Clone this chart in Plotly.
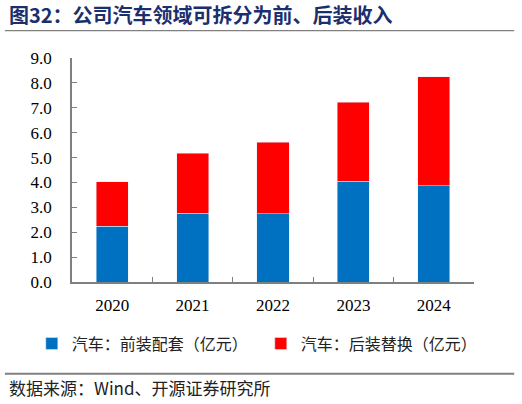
import plotly.graph_objects as go

years = ['2020', '2021', '2022', '2023', '2024']
front = [2.25, 2.76, 2.74, 4.05, 3.86]   # 汽车：前装配套（亿元）
after = [1.77, 2.42, 2.88, 3.18, 4.39]   # 汽车：后装替换（亿元）
yticks = [0, 1, 2, 3, 4, 5, 6, 7, 8, 9]

cjk = 'Noto Sans CJK SC'
num = 'Liberation Serif'

fig = go.Figure()
fig.add_trace(go.Bar(x=years, y=front, name='汽车：前装配套（亿元）',
                     marker_color='#0070C0', width=0.4))
fig.add_trace(go.Bar(x=years, y=after, name='汽车：后装替换（亿元）',
                     marker_color='#FF0000', width=0.4))

fig.update_layout(
    barmode='stack',
    width=522, height=404,
    margin=dict(l=72, r=48, t=58, b=122, autoexpand=False),
    paper_bgcolor='white', plot_bgcolor='white',
    showlegend=True,
    legend=dict(orientation='h', x=-0.1, xanchor='left', y=-0.275, yanchor='middle',
                traceorder='normal', entrywidth=184, entrywidthmode='pixels',
                font=dict(family=cjk, size=16, color='#222'),
                itemwidth=30, tracegroupgap=0),
    font=dict(family=num, size=17, color='black'),
)
fig.update_xaxes(
    showline=True, linecolor='#7f7f7f', linewidth=1.5,
    ticks='inside', ticklen=5, tickcolor='#7f7f7f', tickson='boundaries',
    ticklabelstandoff=7,
    tickfont=dict(family=num, size=17),
)
fig.update_yaxes(
    range=[0, 9], tickvals=yticks, tickformat='.1f',
    showline=True, linecolor='#7f7f7f', linewidth=1.5,
    ticks='inside', ticklen=5, tickcolor='#7f7f7f',
    showgrid=False, zeroline=False, ticklabelstandoff=15,
    tickfont=dict(family=num, size=17),
)

# title and frame lines
fig.add_annotation(text='<b>图32：公司汽车领域可拆分为前、后装收入</b>',
                   xref='paper', yref='paper', x=-0.162, xanchor='left',
                   y=1.192, yanchor='middle', showarrow=False,
                   font=dict(family=cjk, size=20, color='#1B2F6E'))
fig.add_shape(type='line', xref='paper', yref='paper', x0=-0.167, x1=1.1,
              y0=1.122, y1=1.122, line=dict(color='#808080', width=1.2))
fig.add_shape(type='line', xref='paper', yref='paper', x0=-0.167, x1=1.1,
              y0=-0.41, y1=-0.41, line=dict(color='#808080', width=2))
fig.add_annotation(text='数据来源：Wind、开源证券研究所',
                   xref='paper', yref='paper', x=-0.162, xanchor='left',
                   y=-0.473, yanchor='middle', showarrow=False,
                   font=dict(family=cjk, size=17, color='#222'))

fig.write_html('out.html', config={'displayModeBar': False},
               post_script="document.body.style.margin='0px';")
